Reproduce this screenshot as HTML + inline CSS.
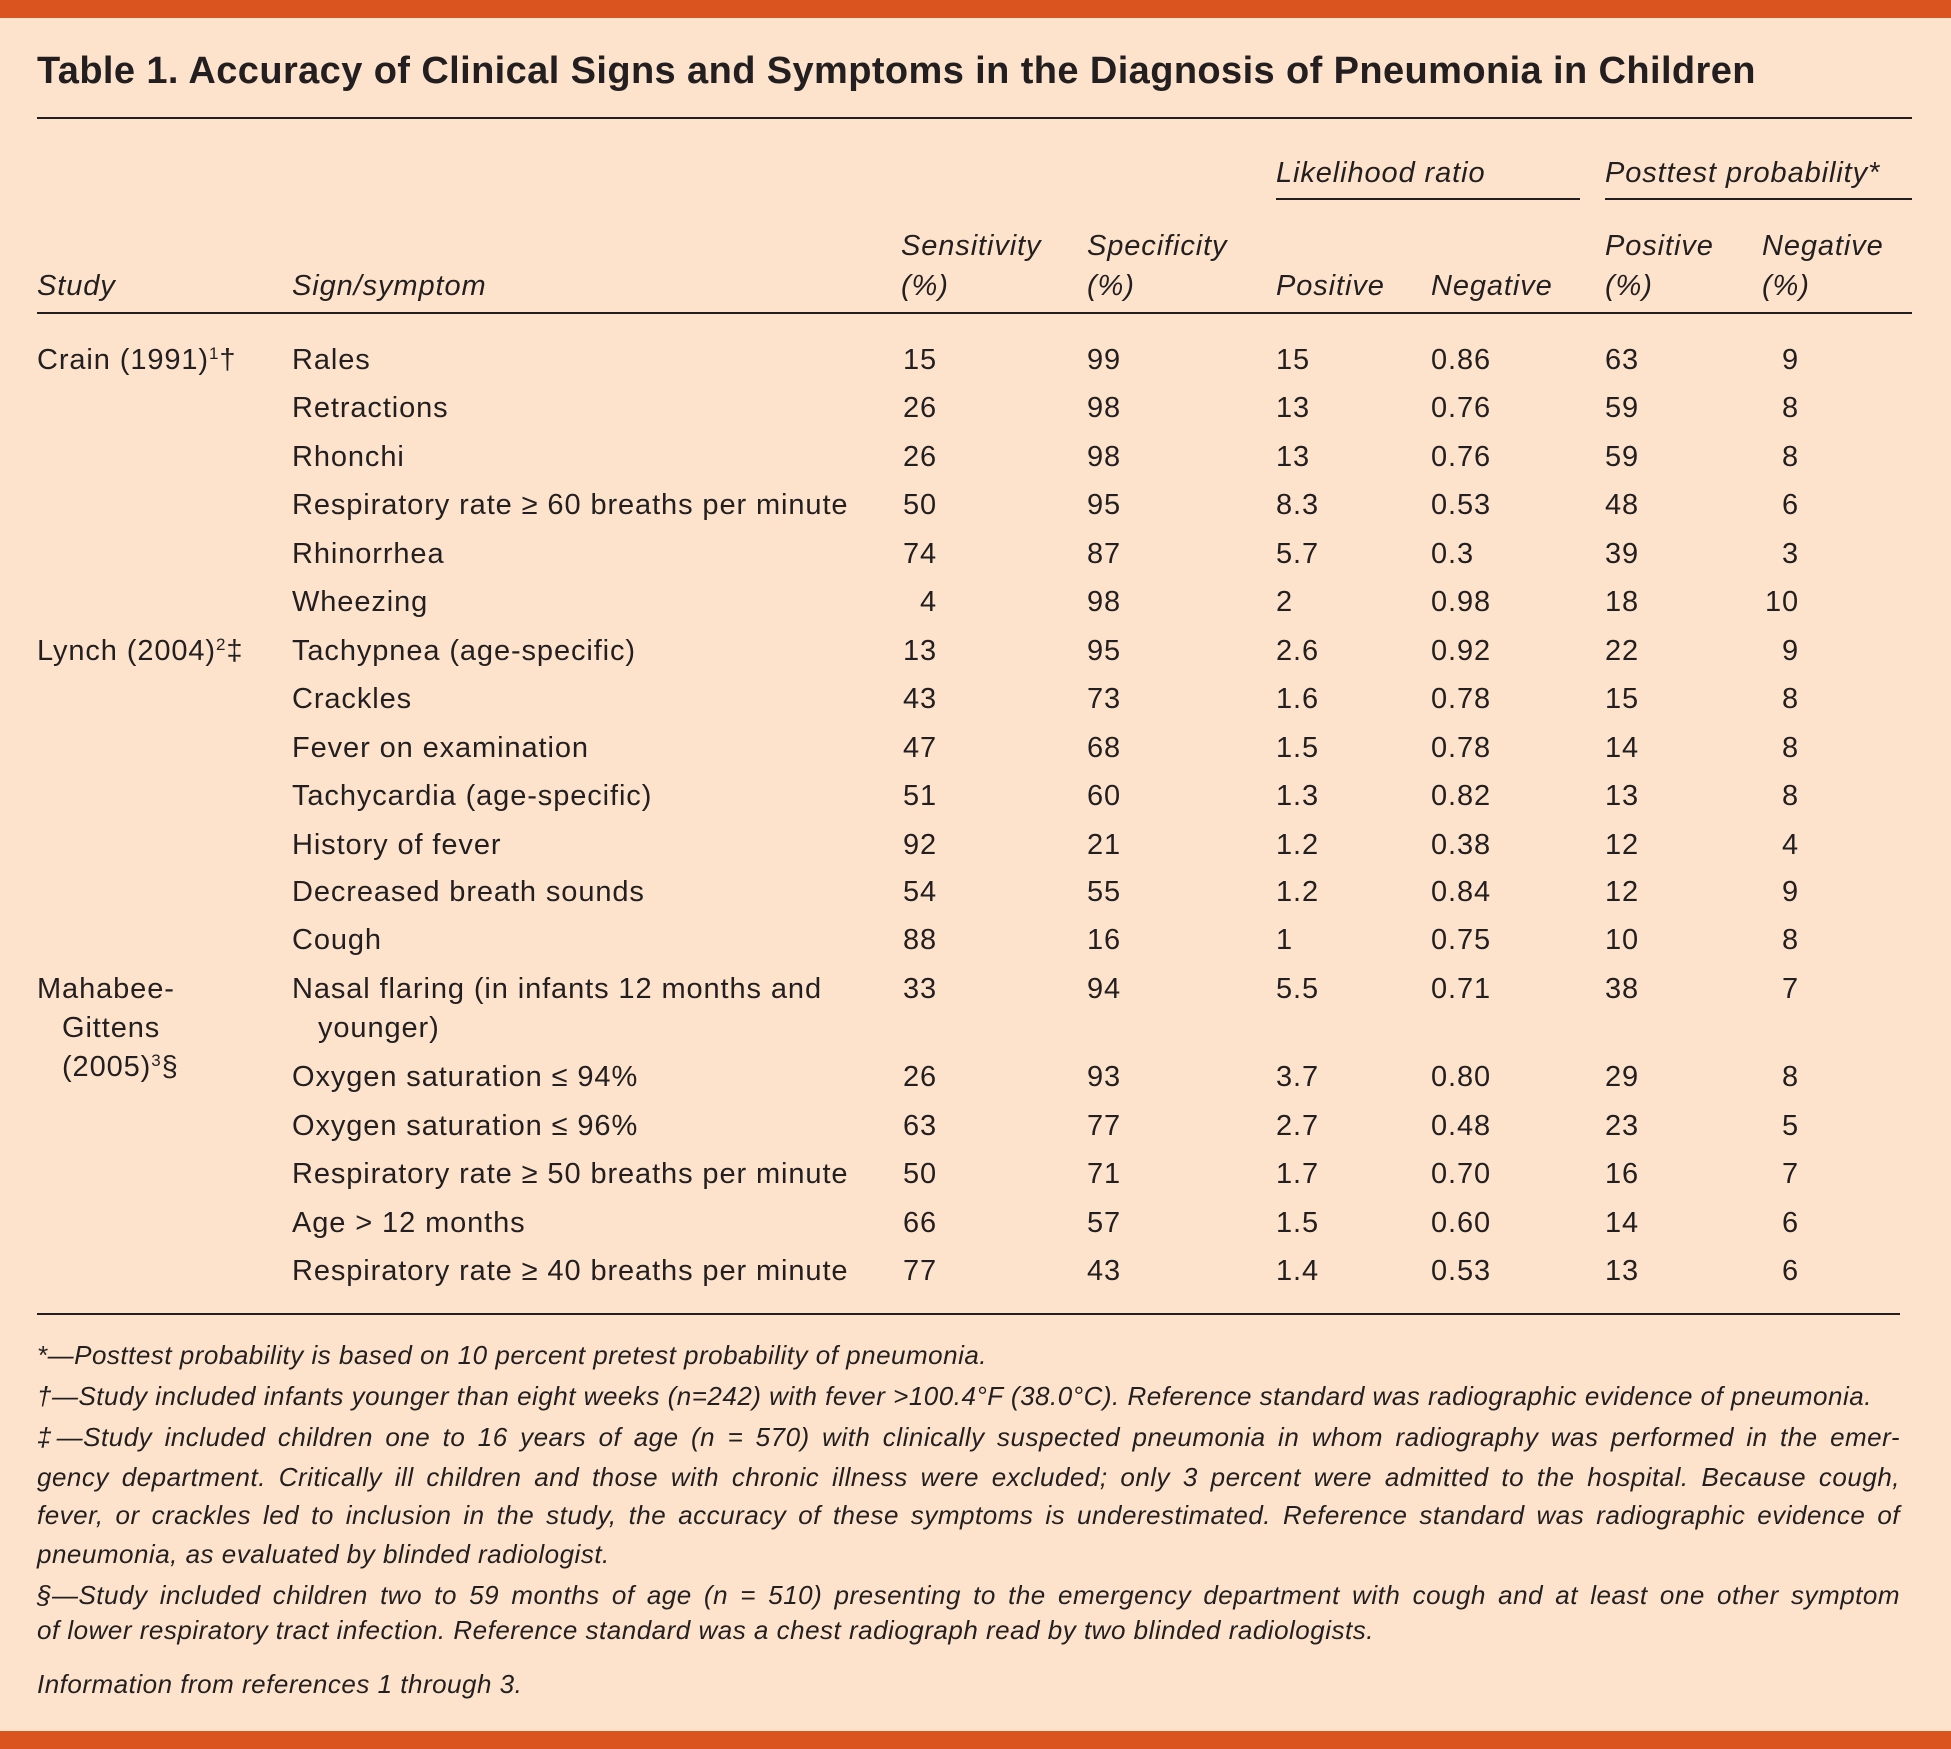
<!DOCTYPE html>
<html><head><meta charset="utf-8"><style>
html,body{margin:0;padding:0}
body{width:1951px;height:1749px;background:#fde3cc;position:relative;overflow:hidden;font-family:"Liberation Sans",sans-serif;color:#231f20}
.bar{position:absolute;left:0;width:1951px;height:18px;background:#d9541e}
.t{position:absolute;white-space:nowrap;line-height:30px;font-size:29px;letter-spacing:0.9px}
.i{font-style:italic}
.r{text-align:right}
.rule{position:absolute;height:2px;background:#231f20}
.fn{position:absolute;left:37px;width:1863px;font-size:26px;letter-spacing:0.5px;line-height:30px;font-style:italic;white-space:nowrap}
.j{text-align:justify;text-align-last:justify;white-space:normal}
sup{font-size:17px;vertical-align:10px;line-height:0}
</style></head><body>
<div class="bar" style="top:0"></div>
<div class="bar" style="top:1731px"></div>
<div class="t" style="left:37px;top:50px;font-size:38px;letter-spacing:0.4px;line-height:42px;font-weight:bold">Table 1. Accuracy of Clinical Signs and Symptoms in the Diagnosis of Pneumonia in Children</div>
<div class="rule" style="left:37px;top:117px;width:1875px"></div>

<div class="t i" style="left:1276px;top:158px">Likelihood ratio</div>
<div class="t i" style="left:1605px;top:158px">Posttest probability*</div>
<div class="rule" style="left:1276px;top:198px;width:304px"></div>
<div class="rule" style="left:1605px;top:198px;width:307px"></div>

<div class="t i" style="left:901px;top:231px">Sensitivity</div>
<div class="t i" style="left:1087px;top:231px">Specificity</div>
<div class="t i" style="left:1605px;top:231px">Positive</div>
<div class="t i" style="left:1762px;top:231px">Negative</div>
<div class="t i" style="left:37px;top:271px">Study</div>
<div class="t i" style="left:292px;top:271px">Sign/symptom</div>
<div class="t i" style="left:901px;top:271px">(%)</div>
<div class="t i" style="left:1087px;top:271px">(%)</div>
<div class="t i" style="left:1276px;top:271px">Positive</div>
<div class="t i" style="left:1431px;top:271px">Negative</div>
<div class="t i" style="left:1605px;top:271px">(%)</div>
<div class="t i" style="left:1762px;top:271px">(%)</div>
<div class="rule" style="left:37px;top:312px;width:1875px"></div>

<div class="t" style="left:37px;top:345px">Crain (1991)<sup>1</sup>†</div>
<div class="t" style="left:37px;top:636px">Lynch (2004)<sup>2</sup>‡</div>
<div class="t" style="left:37px;top:974px">Mahabee-</div>
<div class="t" style="left:62px;top:1013px">Gittens</div>
<div class="t" style="left:62px;top:1052px">(2005)<sup>3</sup>§</div>

<div style="position:absolute;left:0;top:345px;width:1951px;height:30px">
<div class="t" style="left:292px">Rales</div><div class="t r" style="right:1014px">15</div><div class="t" style="left:1087px">99</div><div class="t" style="left:1276px">15</div><div class="t" style="left:1431px">0.86</div><div class="t" style="left:1605px">63</div><div class="t r" style="right:152px">9</div></div>
<div style="position:absolute;left:0;top:393px;width:1951px;height:30px">
<div class="t" style="left:292px">Retractions</div><div class="t r" style="right:1014px">26</div><div class="t" style="left:1087px">98</div><div class="t" style="left:1276px">13</div><div class="t" style="left:1431px">0.76</div><div class="t" style="left:1605px">59</div><div class="t r" style="right:152px">8</div></div>
<div style="position:absolute;left:0;top:442px;width:1951px;height:30px">
<div class="t" style="left:292px">Rhonchi</div><div class="t r" style="right:1014px">26</div><div class="t" style="left:1087px">98</div><div class="t" style="left:1276px">13</div><div class="t" style="left:1431px">0.76</div><div class="t" style="left:1605px">59</div><div class="t r" style="right:152px">8</div></div>
<div style="position:absolute;left:0;top:490px;width:1951px;height:30px">
<div class="t" style="left:292px">Respiratory rate ≥ 60 breaths per minute</div><div class="t r" style="right:1014px">50</div><div class="t" style="left:1087px">95</div><div class="t" style="left:1276px">8.3</div><div class="t" style="left:1431px">0.53</div><div class="t" style="left:1605px">48</div><div class="t r" style="right:152px">6</div></div>
<div style="position:absolute;left:0;top:539px;width:1951px;height:30px">
<div class="t" style="left:292px">Rhinorrhea</div><div class="t r" style="right:1014px">74</div><div class="t" style="left:1087px">87</div><div class="t" style="left:1276px">5.7</div><div class="t" style="left:1431px">0.3</div><div class="t" style="left:1605px">39</div><div class="t r" style="right:152px">3</div></div>
<div style="position:absolute;left:0;top:587px;width:1951px;height:30px">
<div class="t" style="left:292px">Wheezing</div><div class="t r" style="right:1014px">4</div><div class="t" style="left:1087px">98</div><div class="t" style="left:1276px">2</div><div class="t" style="left:1431px">0.98</div><div class="t" style="left:1605px">18</div><div class="t r" style="right:152px">10</div></div>
<div style="position:absolute;left:0;top:636px;width:1951px;height:30px">
<div class="t" style="left:292px">Tachypnea (age-specific)</div><div class="t r" style="right:1014px">13</div><div class="t" style="left:1087px">95</div><div class="t" style="left:1276px">2.6</div><div class="t" style="left:1431px">0.92</div><div class="t" style="left:1605px">22</div><div class="t r" style="right:152px">9</div></div>
<div style="position:absolute;left:0;top:684px;width:1951px;height:30px">
<div class="t" style="left:292px">Crackles</div><div class="t r" style="right:1014px">43</div><div class="t" style="left:1087px">73</div><div class="t" style="left:1276px">1.6</div><div class="t" style="left:1431px">0.78</div><div class="t" style="left:1605px">15</div><div class="t r" style="right:152px">8</div></div>
<div style="position:absolute;left:0;top:733px;width:1951px;height:30px">
<div class="t" style="left:292px">Fever on examination</div><div class="t r" style="right:1014px">47</div><div class="t" style="left:1087px">68</div><div class="t" style="left:1276px">1.5</div><div class="t" style="left:1431px">0.78</div><div class="t" style="left:1605px">14</div><div class="t r" style="right:152px">8</div></div>
<div style="position:absolute;left:0;top:781px;width:1951px;height:30px">
<div class="t" style="left:292px">Tachycardia (age-specific)</div><div class="t r" style="right:1014px">51</div><div class="t" style="left:1087px">60</div><div class="t" style="left:1276px">1.3</div><div class="t" style="left:1431px">0.82</div><div class="t" style="left:1605px">13</div><div class="t r" style="right:152px">8</div></div>
<div style="position:absolute;left:0;top:830px;width:1951px;height:30px">
<div class="t" style="left:292px">History of fever</div><div class="t r" style="right:1014px">92</div><div class="t" style="left:1087px">21</div><div class="t" style="left:1276px">1.2</div><div class="t" style="left:1431px">0.38</div><div class="t" style="left:1605px">12</div><div class="t r" style="right:152px">4</div></div>
<div style="position:absolute;left:0;top:877px;width:1951px;height:30px">
<div class="t" style="left:292px">Decreased breath sounds</div><div class="t r" style="right:1014px">54</div><div class="t" style="left:1087px">55</div><div class="t" style="left:1276px">1.2</div><div class="t" style="left:1431px">0.84</div><div class="t" style="left:1605px">12</div><div class="t r" style="right:152px">9</div></div>
<div style="position:absolute;left:0;top:925px;width:1951px;height:30px">
<div class="t" style="left:292px">Cough</div><div class="t r" style="right:1014px">88</div><div class="t" style="left:1087px">16</div><div class="t" style="left:1276px">1</div><div class="t" style="left:1431px">0.75</div><div class="t" style="left:1605px">10</div><div class="t r" style="right:152px">8</div></div>
<div style="position:absolute;left:0;top:974px;width:1951px;height:30px">
<div class="t" style="left:292px">Nasal flaring (in infants 12 months and</div><div class="t r" style="right:1014px">33</div><div class="t" style="left:1087px">94</div><div class="t" style="left:1276px">5.5</div><div class="t" style="left:1431px">0.71</div><div class="t" style="left:1605px">38</div><div class="t r" style="right:152px">7</div></div>
<div class="t" style="left:318px;top:1013px">younger)</div>
<div style="position:absolute;left:0;top:1062px;width:1951px;height:30px">
<div class="t" style="left:292px">Oxygen saturation ≤ 94%</div><div class="t r" style="right:1014px">26</div><div class="t" style="left:1087px">93</div><div class="t" style="left:1276px">3.7</div><div class="t" style="left:1431px">0.80</div><div class="t" style="left:1605px">29</div><div class="t r" style="right:152px">8</div></div>
<div style="position:absolute;left:0;top:1111px;width:1951px;height:30px">
<div class="t" style="left:292px">Oxygen saturation ≤ 96%</div><div class="t r" style="right:1014px">63</div><div class="t" style="left:1087px">77</div><div class="t" style="left:1276px">2.7</div><div class="t" style="left:1431px">0.48</div><div class="t" style="left:1605px">23</div><div class="t r" style="right:152px">5</div></div>
<div style="position:absolute;left:0;top:1159px;width:1951px;height:30px">
<div class="t" style="left:292px">Respiratory rate ≥ 50 breaths per minute</div><div class="t r" style="right:1014px">50</div><div class="t" style="left:1087px">71</div><div class="t" style="left:1276px">1.7</div><div class="t" style="left:1431px">0.70</div><div class="t" style="left:1605px">16</div><div class="t r" style="right:152px">7</div></div>
<div style="position:absolute;left:0;top:1208px;width:1951px;height:30px">
<div class="t" style="left:292px">Age &gt; 12 months</div><div class="t r" style="right:1014px">66</div><div class="t" style="left:1087px">57</div><div class="t" style="left:1276px">1.5</div><div class="t" style="left:1431px">0.60</div><div class="t" style="left:1605px">14</div><div class="t r" style="right:152px">6</div></div>
<div style="position:absolute;left:0;top:1256px;width:1951px;height:30px">
<div class="t" style="left:292px">Respiratory rate ≥ 40 breaths per minute</div><div class="t r" style="right:1014px">77</div><div class="t" style="left:1087px">43</div><div class="t" style="left:1276px">1.4</div><div class="t" style="left:1431px">0.53</div><div class="t" style="left:1605px">13</div><div class="t r" style="right:152px">6</div></div>

<div class="rule" style="left:37px;top:1313px;width:1863px"></div>

<div class="fn" style="top:1340px">*—Posttest probability is based on 10 percent pretest probability of pneumonia.</div>
<div class="fn" style="top:1381px">†—Study included infants younger than eight weeks (n=242) with fever &gt;100.4°F (38.0°C). Reference standard was radiographic evidence of pneumonia.</div>
<div class="fn j" style="top:1422px;height:30px">‡—Study included children one to 16 years of age (n = 570) with clinically suspected pneumonia in whom radiography was performed in the emer-</div>
<div class="fn j" style="top:1462px;height:30px">gency department. Critically ill children and those with chronic illness were excluded; only 3 percent were admitted to the hospital. Because cough,</div>
<div class="fn j" style="top:1500px;height:30px">fever, or crackles led to inclusion in the study, the accuracy of these symptoms is underestimated. Reference standard was radiographic evidence of</div>
<div class="fn" style="top:1539px">pneumonia, as evaluated by blinded radiologist.</div>
<div class="fn j" style="top:1580px;height:30px">§—Study included children two to 59 months of age (n = 510) presenting to the emergency department with cough and at least one other symptom</div>
<div class="fn" style="top:1615px">of lower respiratory tract infection. Reference standard was a chest radiograph read by two blinded radiologists.</div>
<div class="fn" style="top:1669px">Information from references 1 through 3.</div>
</body></html>
